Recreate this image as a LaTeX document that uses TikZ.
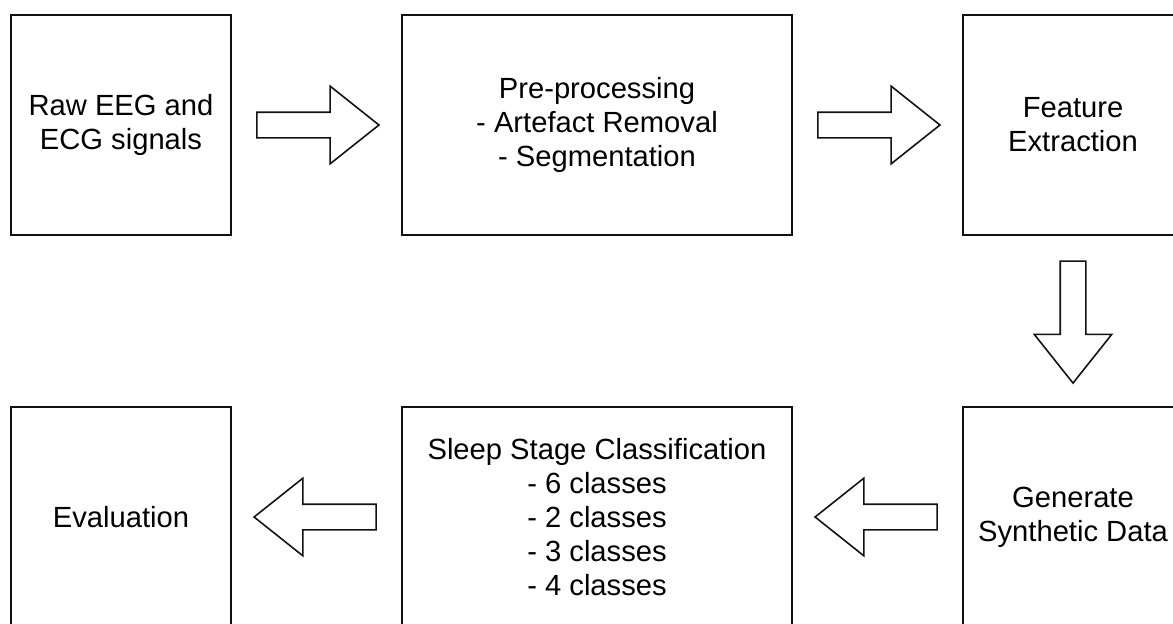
\documentclass[tikz,border=0pt]{standalone}
\usepackage{fontspec}
\setmainfont{Liberation Sans}
\usepackage{tikz}
\usetikzlibrary{shapes.arrows}
\definecolor{cEdge}{HTML}{111111}

\begin{document}
\begin{tikzpicture}[
  every node/.style={font=\fontsize{8.3}{9.7}\selectfont},
  box/.style={draw=cEdge, line width=0.55pt, align=center, minimum width=2.2cm, minimum height=2.2cm, inner sep=0pt, fill=white},
  wide/.style={box, minimum width=3.9cm},
  blk/.style={draw=cEdge, line width=0.45pt, fill=white, single arrow, single arrow head extend=0.26cm, single arrow tip angle=77, minimum height=1.22cm, minimum width=0.76cm, inner xsep=0pt, inner ysep=0.12cm, sloped, allow upside down, pos=0.143, anchor=tail}
]
\clip (0,0) rectangle (11.73,6.23);
\node[box] (raw) at (1.21,4.98) {Raw EEG and\\ECG signals};
\node[wide] (pre) at (5.97,4.98) {Pre-processing\\- Artefact Removal\\- Segmentation};
\node[box] (feat) at (10.73,4.98) {Feature\\Extraction};
\node[box] (gen) at (10.73,1.06) {Generate\\Synthetic Data};
\node[wide] (cls) at (5.97,1.06) {Sleep Stage Classification\\- 6 classes\\- 2 classes\\- 3 classes\\- 4 classes};
\node[box] (eval) at (1.21,1.06) {Evaluation};

\path (raw.east) -- (pre.west) node[blk] {};
\path (pre.east) -- (feat.west) node[blk] {};
\path (feat.south) -- (gen.north) node[blk] {};
\path (gen.west) -- (cls.east) node[blk] {};
\path (cls.west) -- (eval.east) node[blk] {};
\end{tikzpicture}
\end{document}
